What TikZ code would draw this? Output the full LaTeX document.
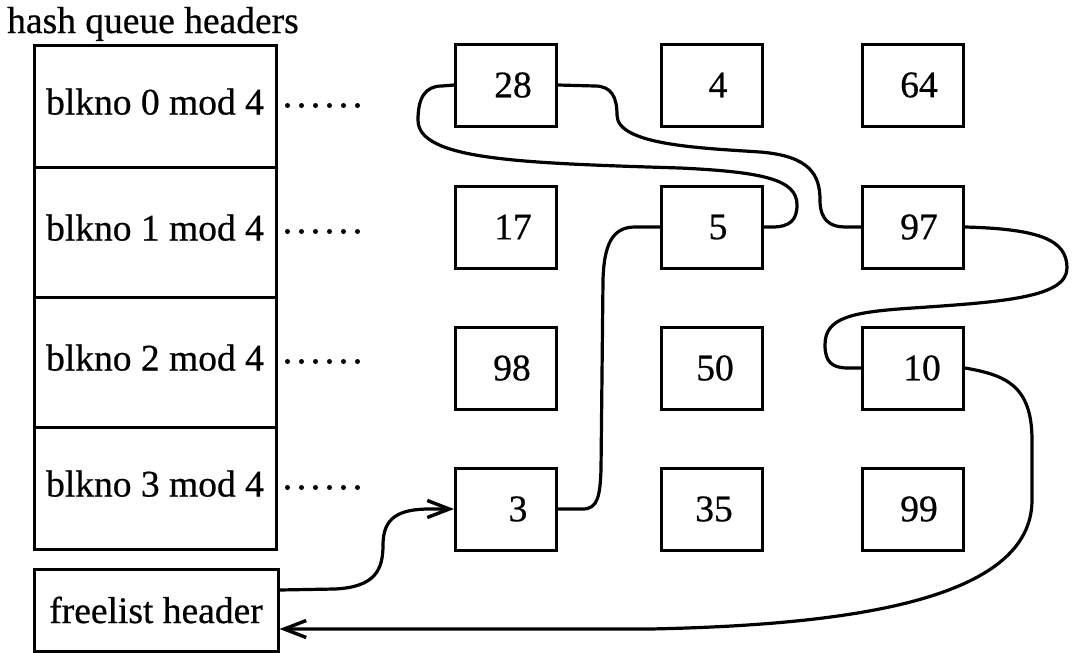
\documentclass[tikz,border=0pt]{standalone}
\usepackage{fontspec}
\setmainfont{Liberation Serif}[FakeBold=0.6]
\usetikzlibrary{arrows.meta,calc}
\begin{document}
\begin{tikzpicture}[x=1pt,y=-1pt,
  font=\fontsize{37.5pt}{44pt}\selectfont,
  hdr/.style={draw,line width=3pt,minimum width=242pt,inner sep=0pt,text height=26pt,text depth=9pt},
  cell/.style={draw,line width=3pt,minimum width=101pt,minimum height=82pt,inner sep=0pt},
  link/.style={line width=3.2pt},
  arr/.style={line width=3.2pt,-{Straight Barb[length=22pt,width=17pt,line width=3.4pt]}},
  dots/.style={line width=5pt,line cap=round,dash pattern=on 0pt off 14pt}
]
\useasboundingbox (0,0) rectangle (1074,653);
\node[anchor=base west,inner sep=0pt] (title) at (7,33) {hash queue headers};
\node[hdr,minimum height=122pt] (h0) at (155,106) {blkno 0 mod 4};
\node[hdr,minimum height=130pt] (h1) at (155,232) {blkno 1 mod 4};
\node[hdr,minimum height=130pt] (h2) at (155,362) {blkno 2 mod 4};
\node[hdr,minimum height=122pt] (h3) at (155,488) {blkno 3 mod 4};
\node[draw,line width=3pt,minimum width=244pt,minimum height=82pt,inner sep=0pt] (fl) at (156,610) {freelist header};
\foreach \r in {0,1,2,3}{
  \draw[dots] ($(h\r.base east)+(10,-9)$) -- ++(72,0);
}
% grid
\node[cell] (b28) at (506,85) {\hspace*{14pt}28};
\node[cell] (b4)  at (712,85) {\hspace*{12pt}4};
\node[cell] (b64) at (913,85) {\hspace*{12pt}64};
\node[cell] (b17) at (506,227) {\hspace*{14pt}17};
\node[cell] (b5)  at (712,227) {\hspace*{12pt}5};
\node[cell] (b97) at (913,227) {\hspace*{12pt}97};
\node[cell] (b98) at (506,368) {\hspace*{12pt}98};
\node[cell] (b50) at (712,368) {\hspace*{6pt}50};
\node[cell] (b10) at (913,368) {\hspace*{18pt}10};
\node[cell] (b3)  at (506,509) {\hspace*{24pt}3};
\node[cell] (b35) at (712,509) {\hspace*{4pt}35};
\node[cell] (b99) at (913,509) {\hspace*{12pt}99};
% connectors
\draw[arr] ($(fl.east)+(0,-20)$) -- (335,589) .. controls (375,587) and (383,570) .. (383,545)
  .. controls (383,518) and (398,509) .. (430,509) -- (b3.west);
\draw[link] (b3.east) -- (583,509) .. controls (598,509) and (600,495) .. (601,470) -- (603,280)
  .. controls (604,245) and (612,227) .. (635,227) -- (b5.west);
\draw[link] (b5.east) -- (772,227) .. controls (790,227) and (797,220) .. (797,205)
  .. controls (797,180) and (765,172) .. (680,168) .. controls (520,163) and (418,160) .. (418,120)
  .. controls (418,98) and (425,86) .. (442,86) -- (b28.west);
\draw[link] (b28.east) -- (595,86) .. controls (612,86) and (617,98) .. (617,115)
  .. controls (617,145) and (700,148) .. (760,152) .. controls (810,156) and (820,175) .. (820,200)
  .. controls (820,220) and (830,227) .. (845,227) -- (b97.west);
\draw[link] (b97.east) .. controls (1040,229) and (1067,240) .. (1067,268)
  .. controls (1067,298) and (1000,302) .. (913,308) .. controls (850,312) and (825,318) .. (825,345)
  .. controls (825,362) and (832,368) .. (848,368) -- (b10.west);
\draw[arr] (b10.east) .. controls (1005,375) and (1032,385) .. (1032,440) -- (1032,500)
  .. controls (1032,600) and (850,625) .. (650,629) -- ($(fl.east)+(0,19)$);
\end{tikzpicture}
\end{document}
